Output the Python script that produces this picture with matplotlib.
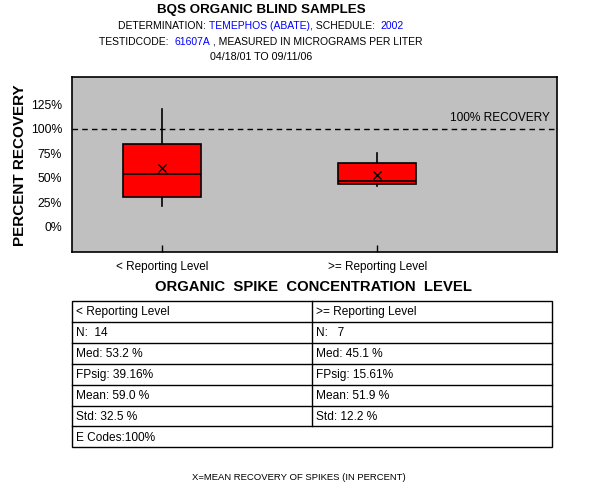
import matplotlib
matplotlib.use("Agg")
import matplotlib.pyplot as plt
from matplotlib.patches import Rectangle
from matplotlib.lines import Line2D

plt.rcParams['font.family'] = ['Liberation Sans', 'DejaVu Sans']

# ---- data ----
categories = ["< Reporting Level", ">= Reporting Level"]
whislo = [21.7, 42.0]
q1 = [30.3, 43.5]
med = [54.3, 46.5]
q3 = [84.3, 64.9]
whishi = [119.9, 75.4]
means = [60.0, 53.0]
yticks = [0, 25, 50, 75, 100, 125]

table_left = ["< Reporting Level", "N:  14", "Med: 53.2 %", "FPsig: 39.16%", "Mean: 59.0 %", "Std: 32.5 %"]
table_right = [">= Reporting Level", "N:   7", "Med: 45.1 %", "FPsig: 15.61%", "Mean: 51.9 %", "Std: 12.2 %"]
table_last = "E Codes:100%"

W, H = 600, 500
fig = plt.figure(figsize=(6, 5), dpi=100)
fig.patch.set_facecolor('white')

def fx(px): return px / W
def fy(py): return 1 - py / H

# ---- axes ----
ax_l, ax_r, ax_t, ax_b = 72, 556.7, 76.5, 252.3
ax = fig.add_axes([fx(ax_l), fy(ax_b), fx(ax_r - ax_l), (ax_b - ax_t) / H])
ax.set_facecolor('#c0c0c0')
ax.set_xlim(0.58, 2.834)
ax.set_ylim(-25.8, 153.3)

stats = []
for i in range(len(categories)):
    stats.append(dict(med=med[i], q1=q1[i], q3=q3[i], whislo=whislo[i], whishi=whishi[i],
                      mean=means[i], fliers=[], label=categories[i]))
ax.bxp(stats, positions=[1, 2], widths=0.363, patch_artist=True, showmeans=True,
       showcaps=False, showfliers=False,
       boxprops=dict(facecolor='#ff0000', edgecolor='black', linewidth=1.2),
       medianprops=dict(color='black', linewidth=1.2),
       whiskerprops=dict(color='black', linewidth=1.2),
       meanprops=dict(marker='x', markeredgecolor='black', markersize=6, markeredgewidth=0.9))

ax.axhline(100, color='black', linestyle=(0, (4, 3)), linewidth=1)
ax.text(2.80, 105, "100% RECOVERY", ha='right', va='bottom', fontsize=8.6)

ax.set_yticks(yticks)
ax.set_yticklabels([f"{t}%" for t in yticks], fontsize=8.8)
ax.tick_params(axis='y', length=0, pad=7)
ax.set_xticks([1, 2])
ax.set_xticklabels(categories, fontsize=8.5)
ax.tick_params(axis='x', direction='in', length=5, pad=6, width=1)
for s in ax.spines.values():
    s.set_linewidth(1.2)

fig.text(fx(20), fy(165), "PERCENT RECOVERY", rotation=90, ha='center', va='center',
         fontsize=11, fontweight='bold')

# ---- titles ----
fig.text(fx(261), fy(10), "BQS ORGANIC BLIND SAMPLES", ha='center', va='center',
         fontsize=9.6, fontweight='bold')

renderer = fig.canvas.get_renderer()

def multicolor_line(parts, cx, cy, size=7.5):
    texts = []
    for s, c in parts:
        t = fig.text(0, fy(cy), s, color=c, fontsize=size, ha='left', va='center')
        texts.append(t)
    widths = [t.get_window_extent(renderer).width for t in texts]
    total = sum(widths)
    x = cx - total / 2
    for t, w in zip(texts, widths):
        t.set_x(fx(x))
        x += w

multicolor_line([("DETERMINATION: ", 'black'), ("TEMEPHOS (ABATE),", 'blue'),
                 (" SCHEDULE:  ", 'black'), ("2002", 'blue')], 261, 26)
multicolor_line([("TESTIDCODE:  ", 'black'), ("61607A", 'blue'),
                 (" , MEASURED IN MICROGRAMS PER LITER", 'black')], 261, 42)
fig.text(fx(261), fy(57), "04/18/01 TO 09/11/06", ha='center', va='center', fontsize=7.7)

# ---- table ----
fig.text(fx(313.5), fy(286.7), "ORGANIC  SPIKE  CONCENTRATION  LEVEL", ha='center', va='center',
         fontsize=10.7, fontweight='bold')

t_l, t_r, t_m = 72.3, 552, 312.3
rows_y = [300.7, 321.7, 342.7, 363.7, 384.7, 405.7, 426.3, 447.3]
lw = 1.0
fig.add_artist(Rectangle((fx(t_l), fy(rows_y[-1])), fx(t_r - t_l), (rows_y[-1] - rows_y[0]) / H,
                         fill=False, edgecolor='black', linewidth=lw, transform=fig.transFigure))
for y in rows_y[1:-1]:
    fig.add_artist(Line2D([fx(t_l), fx(t_r)], [fy(y), fy(y)], color='black', linewidth=lw,
                          transform=fig.transFigure))
fig.add_artist(Line2D([fx(t_m), fx(t_m)], [fy(rows_y[0]), fy(rows_y[6])], color='black', linewidth=lw,
                      transform=fig.transFigure))
for i in range(len(table_left)):
    cy = (rows_y[i] + rows_y[i + 1]) / 2 + 1
    fig.text(fx(t_l + 4), fy(cy), table_left[i], ha='left', va='center', fontsize=8.6)
    fig.text(fx(t_m + 4), fy(cy), table_right[i], ha='left', va='center', fontsize=8.6)
cy = (rows_y[6] + rows_y[7]) / 2 + 1
fig.text(fx(t_l + 4), fy(cy), table_last, ha='left', va='center', fontsize=8.6)

fig.text(fx(299), fy(477), "X=MEAN RECOVERY OF SPIKES (IN PERCENT)", ha='center', va='center',
         fontsize=6.8)

fig.savefig("out.png", dpi=100)
